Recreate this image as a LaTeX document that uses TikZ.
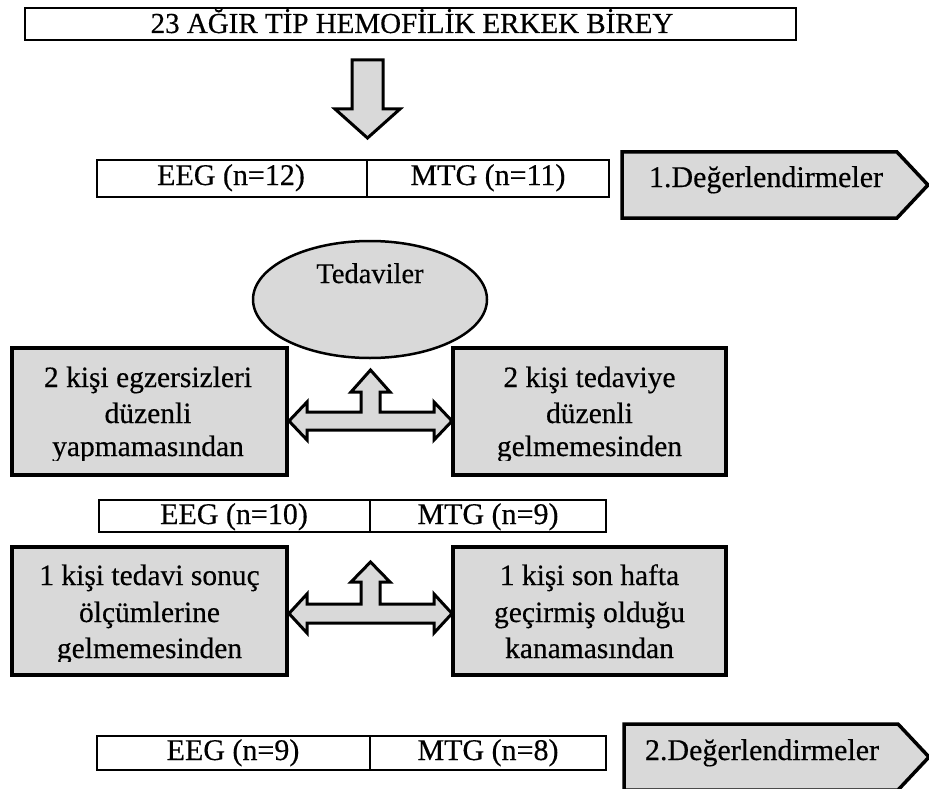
\documentclass[tikz,border=0pt]{standalone}
\usepackage{fontspec}
\setmainfont{Liberation Serif}
\newfontfamily\heavyserif{Liberation Serif}[FakeBold=0.4]
\usetikzlibrary{shapes.geometric}
\definecolor{boxgray}{HTML}{D9D9D9}
\tikzset{
  thinbox/.style={draw=black, line width=1.2pt, fill=white, inner sep=0pt},
  heavybox/.style={draw=black, line width=3.5pt, fill=boxgray, line join=miter, inner sep=0pt},
  blockarrow/.style={draw=black, line width=3pt, fill=boxgray, line join=miter},
  lbl/.style={anchor=base, inner sep=0pt, font=\heavyserif\fontsize{29.5}{36}\selectfont},
  tbl/.style={anchor=base, inner sep=0pt, font=\heavyserif\fontsize{30}{36}\selectfont},
}
\begin{document}
\begin{tikzpicture}[x=1pt,y=-1pt]
\useasboundingbox (0,0) rectangle (929,789);

% title
\node[thinbox, minimum width=771pt, minimum height=32pt] (title) at (410.5,24) {};
\node[lbl, font=\heavyserif\fontsize{29}{34}\selectfont] (titletxt) at (412,33) {23 AĞIR TİP HEMOFİLİK ERKEK BİREY};

% block arrow down
\draw[blockarrow] (352,60) -- (383,60) -- (383,109) -- (400,109) -- (367.5,138)
  -- (335,109) -- (352,109) -- cycle;

% first group table
\node[thinbox, minimum width=270pt, minimum height=37pt] (eegA) at (232,178.5) {};
\node[thinbox, minimum width=242pt, minimum height=37pt] (mtgA) at (488,178.5) {};
\node[tbl] (eegAtxt) at (231,185) {EEG (n=12)};
\node[tbl] (mtgAtxt) at (488,185) {MTG (n=11)};

% first assessment
\draw[heavybox] (622,152) -- (897,152) -- (928,185) -- (897,218) -- (622,218) -- cycle;
\node[tbl] (evalA) at (766,187) {1.Değerlendirmeler};

% treatments
\node[ellipse, draw=black, line width=2.5pt, fill=boxgray, minimum width=234pt,
  minimum height=117pt, inner sep=0pt] (tedavi) at (370,299.5) {};
\node[lbl, font=\heavyserif\fontsize{28.5}{34}\selectfont] (tedavitxt) at (370,283) {Tedaviler};

% dropouts, first period
\node[heavybox, minimum width=275pt, minimum height=127pt] (dropL1) at (149.5,411.5) {};
\node[heavybox, minimum width=273pt, minimum height=127pt] (dropR1) at (589.5,411.5) {};
\begin{scope}
  \clip (12,348) rectangle (726,460);
  \node[lbl] (l1a) at (148,387) {2 kişi egzersizleri};
  \node[lbl] (l1b) at (148,423) {düzenli};
  \node[lbl] (l1c) at (148,456) {yapmamasından};
  \node[lbl] (r1a) at (589.5,387) {2 kişi tedaviye};
  \node[lbl] (r1b) at (589.5,423) {düzenli};
  \node[lbl] (r1c) at (589.5,456) {gelmemesinden};
\end{scope}
\draw[blockarrow] (289,421) -- (307,402) -- (307,412) -- (361,412) -- (361,392)
  -- (351,392) -- (370.5,370) -- (390,392) -- (380,392) -- (380,412) -- (434,412)
  -- (434,402) -- (452,421) -- (434,440) -- (434,430) -- (307,430) -- (307,440) -- cycle;

% second group table
\node[thinbox, minimum width=271pt, minimum height=32pt] (eegB) at (234.5,516) {};
\node[thinbox, minimum width=236pt, minimum height=32pt] (mtgB) at (488,516) {};
\node[tbl] (eegBtxt) at (234,524) {EEG (n=10)};
\node[tbl] (mtgBtxt) at (488,524) {MTG (n=9)};

% dropouts, second period
\node[heavybox, minimum width=275pt, minimum height=128pt] (dropL2) at (149.5,611) {};
\node[heavybox, minimum width=273pt, minimum height=128pt] (dropR2) at (589.5,611) {};
\begin{scope}
  \clip (12,547) rectangle (726,661);
  \node[lbl] (l2a) at (149.5,585) {1 kişi tedavi sonuç};
  \node[lbl] (l2b) at (149.5,622) {ölçümlerine};
  \node[lbl] (l2c) at (149.5,658) {gelmemesinden};
  \node[lbl] (r2a) at (589.5,585) {1 kişi son hafta};
  \node[lbl] (r2b) at (589.5,622) {geçirmiş olduğu};
  \node[lbl] (r2c) at (589.5,658) {kanamasından};
\end{scope}
\draw[blockarrow] (289,613.5) -- (307,594) -- (307,604) -- (361,604) -- (361,582)
  -- (351,582) -- (370.5,562) -- (390,582) -- (380,582) -- (380,604) -- (434,604)
  -- (434,594) -- (452,613.5) -- (434,633) -- (434,623) -- (307,623) -- (307,633) -- cycle;

% final group table
\node[thinbox, minimum width=273pt, minimum height=34pt] (eegC) at (233.5,753) {};
\node[thinbox, minimum width=236pt, minimum height=34pt] (mtgC) at (488,753) {};
\node[tbl] (eegCtxt) at (233,760) {EEG (n=9)};
\node[tbl] (mtgCtxt) at (488,760) {MTG (n=8)};

% second assessment
\draw[heavybox] (624,724) -- (898,724) -- (929,757) -- (898,790) -- (624,790) -- cycle;
\node[tbl] (evalB) at (762,760) {2.Değerlendirmeler};
\end{tikzpicture}
\end{document}
